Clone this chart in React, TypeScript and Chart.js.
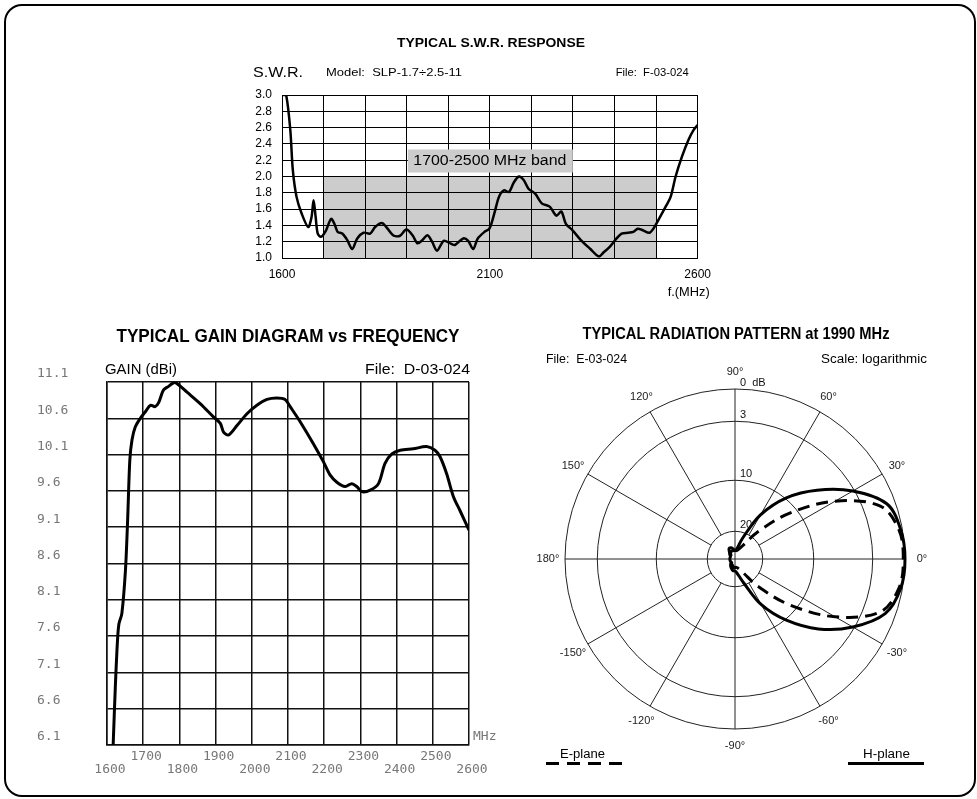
import { useEffect, useRef } from "react"
import { Chart, registerables } from "chart.js"

// Register Chart.js components
Chart.register(...registerables)

const SANS = "'Liberation Sans', Arial, sans-serif"
const MONO = "'DejaVu Sans Mono', monospace"

// S.W.R. response (MHz / ratio)
const SWR_FREQ = [
  1603, 1610, 1620, 1626, 1635, 1647, 1663, 1671, 1676, 1681,
  1686, 1694, 1706, 1718, 1726, 1734, 1745, 1757, 1769, 1781,
  1796, 1812, 1824, 1840, 1851, 1867, 1883, 1899, 1914, 1926,
  1938, 1950, 1961, 1973, 1989, 2005, 2016, 2036, 2048, 2060,
  2071, 2087, 2099, 2111, 2122, 2134, 2146, 2158, 2170, 2181,
  2193, 2209, 2225, 2244, 2260, 2272, 2283, 2299, 2319, 2342,
  2362, 2374, 2389, 2405, 2417, 2433, 2445, 2456, 2468, 2484,
  2496, 2507, 2523, 2535, 2547, 2562, 2578, 2590, 2600,
]
const SWR_VALUE = [
  3.0, 3.0, 2.57, 2.08, 1.75, 1.55, 1.38, 1.5, 1.71, 1.5,
  1.3, 1.26, 1.34, 1.48, 1.42, 1.32, 1.3, 1.22, 1.11, 1.24,
  1.31, 1.3, 1.38, 1.43, 1.38, 1.28, 1.27, 1.35, 1.28, 1.18,
  1.22, 1.28, 1.2, 1.09, 1.21, 1.18, 1.16, 1.24, 1.21, 1.11,
  1.24, 1.32, 1.36, 1.55, 1.75, 1.83, 1.81, 1.93, 2.0, 1.96,
  1.85, 1.79, 1.67, 1.63, 1.52, 1.57, 1.42, 1.34, 1.22, 1.11,
  1.02, 1.07, 1.14, 1.24, 1.3, 1.31, 1.32, 1.36, 1.34, 1.31,
  1.38, 1.48, 1.63, 1.75, 2.0, 2.24, 2.45, 2.57, 2.63,
]
const SWR_Y_TICKS = [1.0, 1.2, 1.4, 1.6, 1.8, 2.0, 2.2, 2.4, 2.6, 2.8, 3.0]
const SWR_X_LABELS = [1600, 2100, 2600]
const SWR_BAND = [1700, 2500]
const SWR_BAND_TOP = 2.0

// Gain vs frequency (MHz / dBi)
const GAIN_FREQ = [
  1617, 1623, 1629, 1633, 1641, 1651, 1657, 1663, 1669, 1678,
  1692, 1706, 1720, 1733, 1743, 1756, 1770, 1784, 1793, 1821,
  1858, 1894, 1913, 1922, 1936, 1959, 1986, 2014, 2042, 2069,
  2092, 2106, 2134, 2170, 2198, 2216, 2235, 2258, 2276, 2290,
  2304, 2327, 2350, 2368, 2387, 2410, 2446, 2483, 2506, 2520,
  2538, 2557, 2575, 2600,
]
const GAIN_DBI = [
  6.1, 6.9, 7.54, 7.77, 7.91, 8.51, 9.2, 10.02, 10.3, 10.48,
  10.6, 10.69, 10.78, 10.76, 10.82, 10.99, 11.04, 11.09, 11.08, 10.96,
  10.8, 10.62, 10.53, 10.41, 10.37, 10.5, 10.66, 10.78, 10.86, 10.88,
  10.86, 10.76, 10.55, 10.25, 10.0, 9.82, 9.72, 9.66, 9.7, 9.66,
  9.59, 9.61, 9.7, 9.98, 10.11, 10.16, 10.18, 10.21, 10.16, 10.07,
  9.84, 9.52, 9.33, 9.06,
]

// Radiation pattern, radius as plotted (1 = 0 dB ring, 0 = centre)
const PATTERN_ANGLES = [
  -170, -160, -150, -140, -130, -120, -110, -100, -90, -80, -70, -60,
  -50, -40, -30, -20, -10, 0, 10, 20, 30, 40, 50, 60,
  70, 80, 90, 100, 110, 120, 130, 140, 150, 160, 170, 180,
]
const H_PLANE = [
  0.03, 0.03, 0.03, 0.03, 0.04, 0.05, 0.06, 0.07, 0.07, 0.09, 0.15, 0.31,
  0.47, 0.64, 0.8, 0.94, 0.99, 1.0, 0.99, 0.95, 0.8, 0.63, 0.47, 0.3,
  0.13, 0.06, 0.05, 0.06, 0.07, 0.07, 0.05, 0.04, 0.03, 0.03, 0.03, 0.03,
]
const E_PLANE = [
  0.03, 0.03, 0.03, 0.03, 0.03, 0.04, 0.04, 0.05, 0.05, 0.05, 0.06, 0.09,
  0.21, 0.42, 0.68, 0.91, 0.98, 0.99, 0.98, 0.91, 0.68, 0.42, 0.21, 0.09,
  0.06, 0.05, 0.05, 0.05, 0.05, 0.05, 0.04, 0.03, 0.03, 0.03, 0.03, 0.03,
]
const RING_VALUES = [0.163, 0.463, 0.81, 1]
const RING_LABELS = ["20", "10", "3", "0  dB"]
const DEGREE_LABELS = [0, 30, 60, 90, 120, 150, 180, -150, -120, -90, -60, -30]

// draw text squeezed / stretched to a given width
function fitText(ctx: CanvasRenderingContext2D, text: string, x: number, y: number, width: number, align: CanvasTextAlign = "left") {
  const w = ctx.measureText(text).width || 1
  ctx.save()
  ctx.translate(x, y)
  ctx.scale(width / w, 1)
  ctx.textAlign = align
  ctx.textBaseline = "middle"
  ctx.fillText(text, 0, 0)
  ctx.restore()
}

function SwrChart() {
  const chartRef = useRef<HTMLCanvasElement>(null)

  useEffect(() => {
    if (!chartRef.current) return

    const bandPlugin = {
      id: "swrBand",
      beforeDraw(chart: any) {
        const { ctx, scales } = chart
        const x0 = scales.x.getPixelForValue(SWR_BAND[0])
        const x1 = scales.x.getPixelForValue(SWR_BAND[1])
        const y0 = scales.y.getPixelForValue(SWR_BAND_TOP)
        const y1 = scales.y.getPixelForValue(scales.y.min)
        ctx.save()
        ctx.fillStyle = "#cccccc"
        ctx.fillRect(x0, y0, x1 - x0, y1 - y0)
        ctx.restore()
      },
      afterDraw(chart: any) {
        const { ctx, chartArea: ca } = chart
        ctx.save()
        ctx.fillStyle = "#000"
        ctx.font = `bold 13px ${SANS}`
        fitText(ctx, "TYPICAL S.W.R. RESPONSE", ca.left + 209, ca.top - 52, 188, "center")
        ctx.font = `14px ${SANS}`
        fitText(ctx, "S.W.R.", ca.left - 29, ca.top - 22, 50)
        ctx.font = `11px ${SANS}`
        fitText(ctx, "Model:  SLP-1.7÷2.5-11", ca.left + 44, ca.top - 22, 136)
        fitText(ctx, "File:  F-03-024", ca.right - 9, ca.top - 22, 73, "right")
        ctx.font = `13px ${SANS}`
        fitText(ctx, "f.(MHz)", ca.right + 12, ca.bottom + 34, 42, "right")
        // band label box
        const cx = chart.scales.x.getPixelForValue((SWR_BAND[0] + SWR_BAND[1]) / 2)
        const cy = ca.top + 66
        ctx.fillStyle = "#cccccc"
        ctx.fillRect(cx - 82, cy - 11.5, 165, 23)
        ctx.fillStyle = "#000"
        ctx.font = `14px ${SANS}`
        fitText(ctx, "1700-2500 MHz band", cx, cy, 153, "center")
        ctx.restore()
      },
    }

    const chart = new Chart(chartRef.current, {
      type: "line",
      data: {
        datasets: [
          {
            data: SWR_FREQ.map((f, i) => ({ x: f, y: SWR_VALUE[i] })),
            borderColor: "#000",
            borderWidth: 2.5,
            pointRadius: 0,
            tension: 0.3,
            fill: false,
          },
        ],
      },
      options: {
        responsive: false,
        animation: false,
        layout: { padding: { top: 65, left: 0, right: 14, bottom: 0 } },
        plugins: { legend: { display: false }, tooltip: { enabled: false } },
        scales: {
          x: {
            type: "linear",
            min: 1600,
            max: 2600,
            afterFit: (s: any) => {
              s.height = 47
            },
            ticks: {
              stepSize: 100,
              autoSkip: false,
              maxRotation: 0,
              padding: 9,
              color: "#000",
              font: { family: SANS, size: 12 },
              callback: (v: any) => (SWR_X_LABELS.includes(Math.round(Number(v))) ? String(Math.round(Number(v))) : ""),
            },
            grid: { color: "#000", lineWidth: 1, drawTicks: false },
            border: { color: "#000", width: 1 },
          },
          y: {
            min: 1,
            max: 3,
            afterFit: (s: any) => {
              s.width = 52
            },
            afterBuildTicks: (s: any) => {
              s.ticks = SWR_Y_TICKS.map((v) => ({ value: v }))
            },
            ticks: {
              autoSkip: false,
              padding: 10,
              color: "#000",
              font: { family: SANS, size: 12 },
              callback: (v: any) => Number(v).toFixed(1),
            },
            grid: { color: "#000", lineWidth: 1, drawTicks: false },
            border: { color: "#000", width: 1 },
          },
        },
      },
      plugins: [bandPlugin],
    })

    return () => chart.destroy()
  }, [])

  return <canvas ref={chartRef} width={490} height={275} style={{ position: "absolute", left: 230, top: 30 }} />
}

function GainChart() {
  const chartRef = useRef<HTMLCanvasElement>(null)

  useEffect(() => {
    if (!chartRef.current) return

    const textPlugin = {
      id: "gainText",
      afterDraw(chart: any) {
        const { ctx, chartArea: ca } = chart
        ctx.save()
        ctx.fillStyle = "#000"
        ctx.font = `bold 18px ${SANS}`
        fitText(ctx, "TYPICAL GAIN DIAGRAM vs FREQUENCY", (ca.left + ca.right) / 2, ca.top - 45, 343, "center")
        ctx.font = `15px ${SANS}`
        fitText(ctx, "GAIN (dBi)", ca.left - 2, ca.top - 12, 72)
        fitText(ctx, "File:  D-03-024", ca.right + 1, ca.top - 12, 105, "right")
        ctx.fillStyle = "#777"
        ctx.font = `13px ${MONO}`
        ctx.textBaseline = "middle"
        ctx.fillText("MHz", ca.right + 4, ca.bottom - 8)
        ctx.restore()
      },
    }

    const chart = new Chart(chartRef.current, {
      type: "line",
      data: {
        datasets: [
          {
            data: GAIN_FREQ.map((f, i) => ({ x: f, y: GAIN_DBI[i] })),
            borderColor: "#000",
            borderWidth: 3,
            pointRadius: 0,
            tension: 0.3,
            fill: false,
          },
        ],
      },
      options: {
        responsive: false,
        animation: false,
        layout: { padding: { top: 57, left: 17, right: 31, bottom: 0 } },
        plugins: { legend: { display: false }, tooltip: { enabled: false } },
        scales: {
          x: {
            type: "linear",
            min: 1600,
            max: 2600,
            afterFit: (s: any) => {
              s.height = 35
            },
            ticks: {
              stepSize: 100,
              autoSkip: false,
              maxRotation: 0,
              padding: 5,
              labelOffset: 3,
              color: "#777",
              font: { family: MONO, size: 13, lineHeight: 1 },
              callback: (v: any) => {
                const f = Math.round(Number(v))
                return (f - 1600) % 200 === 0 ? ["", String(f)] : [String(f), ""]
              },
            },
            grid: { color: "#111", lineWidth: 1.5, drawTicks: false },
            border: { color: "#111", width: 1.5 },
          },
          y: {
            min: 6.1,
            max: 11.1,
            afterFit: (s: any) => {
              s.width = 70
            },
            ticks: {
              stepSize: 0.5,
              padding: 0,
              crossAlign: "far",
              labelOffset: -8,
              color: "#777",
              font: { family: MONO, size: 13 },
              callback: (v: any) => Number(v).toFixed(1),
            },
            grid: { color: "#111", lineWidth: 1.5, drawTicks: false },
            border: { color: "#111", width: 1.5 },
          },
        },
      },
      plugins: [textPlugin],
    })

    return () => chart.destroy()
  }, [])

  return <canvas ref={chartRef} width={480} height={455} style={{ position: "absolute", left: 20, top: 325 }} />
}

function PatternChart() {
  const chartRef = useRef<HTMLCanvasElement>(null)

  useEffect(() => {
    if (!chartRef.current) return

    // radar goes clockwise from the top, so order angles 90, 80, ... , 100
    const order = PATTERN_ANGLES.slice().sort((a, b) => ((450 - a) % 360) - ((450 - b) % 360))
    const pick = (arr: number[]) => order.map((a) => arr[PATTERN_ANGLES.indexOf(a)])

    const textPlugin = {
      id: "patternText",
      afterDraw(chart: any) {
        const { ctx } = chart
        const s = chart.scales.r
        const R = s.drawingArea
        ctx.save()
        ctx.fillStyle = "#000"
        ctx.font = `bold 16px ${SANS}`
        fitText(ctx, "TYPICAL RADIATION PATTERN at 1990 MHz", s.xCenter + 1, s.yCenter - 224, 307, "center")
        ctx.font = `12px ${SANS}`
        fitText(ctx, "File:  E-03-024", s.xCenter - 189, s.yCenter - 199, 81)
        fitText(ctx, "Scale: logarithmic", s.xCenter + 192, s.yCenter - 199, 106, "right")
        // ring labels
        ctx.fillStyle = "#111"
        ctx.font = `11px ${SANS}`
        ctx.textAlign = "left"
        ctx.textBaseline = "middle"
        RING_VALUES.forEach((v, i) => {
          const d = s.getDistanceFromCenterForValue(v)
          ctx.fillText(RING_LABELS[i], s.xCenter + 5, s.yCenter - d - 6)
        })
        // angle labels
        ctx.fillStyle = "#222"
        ctx.textAlign = "center"
        DEGREE_LABELS.forEach((a) => {
          const p = s.getPointPosition(order.indexOf(a), R + 17)
          ctx.fillText(`${a}°`, p.x, p.y)
        })
        // legend
        ctx.fillStyle = "#000"
        ctx.font = `12px ${SANS}`
        fitText(ctx, "E-plane", s.xCenter - 175, s.yCenter + 196, 45)
        fitText(ctx, "H-plane", s.xCenter + 128, s.yCenter + 196, 47)
        ctx.strokeStyle = "#000"
        ctx.lineWidth = 3
        ctx.setLineDash([13, 8])
        ctx.beginPath()
        ctx.moveTo(s.xCenter - 189, s.yCenter + 204.5)
        ctx.lineTo(s.xCenter - 113, s.yCenter + 204.5)
        ctx.stroke()
        ctx.setLineDash([])
        ctx.beginPath()
        ctx.moveTo(s.xCenter + 113, s.yCenter + 204.5)
        ctx.lineTo(s.xCenter + 189, s.yCenter + 204.5)
        ctx.stroke()
        ctx.restore()
      },
    }

    const chart = new Chart(chartRef.current, {
      type: "radar",
      data: {
        labels: order.map((a) => `${a}°`),
        datasets: [
          {
            label: "H-plane",
            data: pick(H_PLANE),
            borderColor: "#000",
            borderWidth: 3,
            pointRadius: 0,
            fill: false,
            tension: 0.35,
          },
          {
            label: "E-plane",
            data: pick(E_PLANE),
            borderColor: "#000",
            borderWidth: 3,
            borderDash: [12, 7],
            pointRadius: 0,
            fill: false,
            tension: 0.35,
          },
        ],
      },
      options: {
        responsive: false,
        animation: false,
        layout: { padding: { left: 50, right: 65, top: 64, bottom: 56 } },
        plugins: { legend: { display: false }, tooltip: { enabled: false } },
        scales: {
          r: {
            min: 0,
            max: 1,
            afterBuildTicks: (s: any) => {
              s.ticks = [0, ...RING_VALUES].map((v) => ({ value: v }))
            },
            ticks: { display: false },
            pointLabels: { display: false },
            grid: { circular: true, color: "#222", lineWidth: 1 },
            angleLines: {
              display: true,
              color: "#222",
              lineWidth: (c: any) => (c.index % 3 === 0 ? 1 : 0),
              borderDash: (c: any) => {
                if (c.index % 9 === 0) return []
                const r0 = c.scale.getDistanceFromCenterForValue(RING_VALUES[0])
                return [0, r0, c.scale.drawingArea, 0]
              },
            },
          },
        },
      },
      plugins: [textPlugin],
    })

    return () => chart.destroy()
  }, [])

  return <canvas ref={chartRef} width={455} height={460} style={{ position: "absolute", left: 515, top: 325 }} />
}

export default function App() {
  return (
    <div style={{ position: "absolute", left: 0, top: 0, width: 977, height: 799, background: "#fff", overflow: "hidden" }}>
      <div
        style={{
          position: "absolute",
          left: 4,
          top: 4,
          width: 972,
          height: 793,
          border: "2.5px solid #000",
          borderRadius: 18,
          boxSizing: "border-box",
        }}
      />
      <SwrChart />
      <GainChart />
      <PatternChart />
    </div>
  )
}
